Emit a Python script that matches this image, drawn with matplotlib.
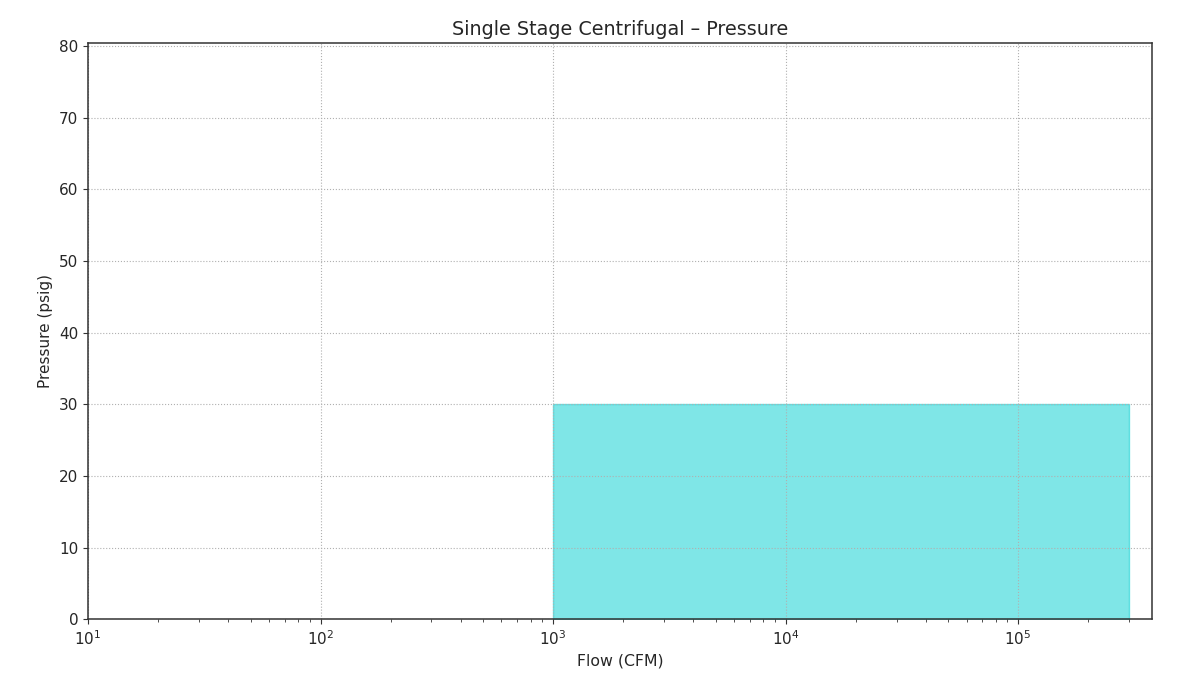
import matplotlib
matplotlib.use('Agg')
from matplotlib import pyplot as plt

flow_range = [1000, 300000]
pressure_min = 0
pressure_max = 30

plt.rcParams['text.color'] = '#262626'
plt.rcParams['axes.labelcolor'] = '#262626'
plt.rcParams['xtick.color'] = '#333333'
plt.rcParams['ytick.color'] = '#333333'

fig, ax = plt.subplots(figsize=(11.89, 6.95), dpi=100)
fig.subplots_adjust(left=0.074, right=0.969, bottom=0.109, top=0.938)

ax.fill_between(flow_range, [pressure_min, pressure_min], [pressure_max, pressure_max],
                color='darkturquoise', alpha=0.5)

ax.set_xscale('log')
ax.set_xlim(10, 3.77e5)
ax.set_ylim(0, 80.4)
ax.set_title('Single Stage Centrifugal – Pressure', fontsize=13.8)
ax.set_xlabel('Flow (CFM)', fontsize=11.3)
ax.set_ylabel('Pressure (psig)', fontsize=11)
ax.tick_params(labelsize=11, labelcolor='#262626')
ax.grid(True, which='major', linestyle=':', color='#b0b0b0')
for s in ax.spines.values():
    s.set_color('#333333')
    s.set_linewidth(1.1)

fig.savefig('out.png')
